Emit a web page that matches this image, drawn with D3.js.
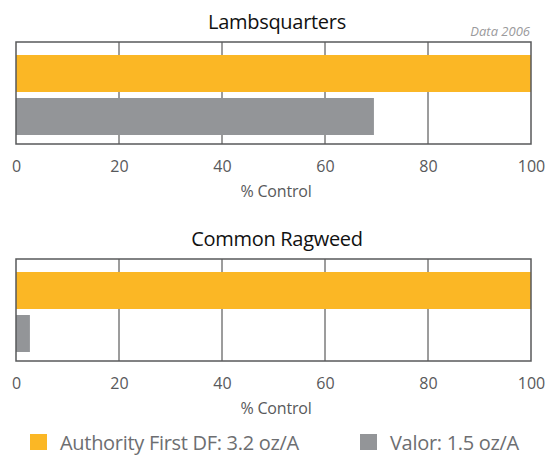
<!DOCTYPE html>
<html>
<head>
<meta charset="utf-8">
<script src="https://cdn.jsdelivr.net/npm/d3@7"></script>
<style>
  body { margin: 0; background: #fff; }
  svg { display: block; font-family: "Open Sans", "Noto Sans", sans-serif; }
</style>
</head>
<body>
<svg id="chart" width="551" height="457"></svg>
<script>
// weeds shown, one panel each
const weeds = ['Lambsquarters', 'Common Ragweed'];
const treatments = ['Authority First DF: 3.2 oz/A', 'Valor: 1.5 oz/A'];
// % control per weed, in treatment order
const authorityValues = [100, 100];
const valorValues = [69.5, 2.7];
const xTicks = [0, 20, 40, 60, 80, 100];

const colors = ['#fbb725', '#939598'];

const svg = d3.select('#chart');
const left = 16, right = 531;
const panelTop = [42, 259];
const boxH = 102;

const x = d3.scaleLinear().domain([0, 100]).range([left, right]);

weeds.forEach((weed, i) => {
    const top = panelTop[i];
    const g = svg.append('g').attr('transform', `translate(0,${top})`);

    const y = d3.scaleBand()
        .domain(treatments)
        .range([13, 93])
        .paddingInner(0.14);

    const rows = [
        { name: treatments[0], value: authorityValues[i] },
        { name: treatments[1], value: valorValues[i] }
    ];

    g.append('text')
        .attr('x', 277)
        .attr('y', -13)
        .attr('text-anchor', 'middle')
        .attr('font-size', '20px')
        .attr('letter-spacing', '-0.3px')
        .attr('fill', '#111')
        .text(weed);

    if (i === 0) {
        g.append('text')
            .attr('x', 530)
            .attr('y', -6)
            .attr('text-anchor', 'end')
            .attr('font-size', '13px')
            .attr('font-style', 'italic')
            .attr('fill', '#9a9a9c')
            .text('Data 2006');
    }

    // gridlines
    g.selectAll('.grid')
        .data(xTicks.slice(1, -1))
        .enter()
        .append('line')
        .attr('class', 'grid')
        .attr('x1', d => x(d))
        .attr('x2', d => x(d))
        .attr('y1', 0)
        .attr('y2', boxH)
        .attr('stroke', '#3a3a3a')
        .attr('stroke-width', 1);

    g.selectAll('.bar')
        .data(rows)
        .enter()
        .append('rect')
        .attr('class', 'bar')
        .attr('x', x(0))
        .attr('y', d => y(d.name))
        .attr('width', d => x(d.value) - x(0))
        .attr('height', y.bandwidth())
        .attr('fill', (d, j) => colors[j]);

    g.append('rect')
        .attr('x', left)
        .attr('y', 0)
        .attr('width', right - left)
        .attr('height', boxH)
        .attr('fill', 'none')
        .attr('stroke', '#58595b')
        .attr('stroke-width', 1.5);

    const axis = d3.axisBottom(x).tickValues(xTicks).tickSize(0).tickPadding(0);
    const ax = g.append('g')
        .attr('transform', `translate(0,${boxH})`)
        .call(axis);
    ax.select('.domain').remove();
    ax.selectAll('text')
        .attr('dy', null)
        .attr('y', 28)
        .attr('font-size', '16px')
        .attr('font-family', '"Open Sans", "Noto Sans", sans-serif')
        .attr('fill', '#58595b');

    g.append('text')
        .attr('x', 276)
        .attr('y', boxH + 53)
        .attr('text-anchor', 'middle')
        .attr('font-size', '16px')
        .attr('letter-spacing', '-0.2px')
        .attr('fill', '#58595b')
        .text('% Control');
});

// legend
const legendX = [30, 360];
const legend = svg.selectAll('.legend')
    .data(treatments)
    .enter()
    .append('g')
    .attr('class', 'legend')
    .attr('transform', (d, i) => `translate(${legendX[i]},434)`);

legend.append('rect')
    .attr('width', 17)
    .attr('height', 16)
    .attr('fill', (d, i) => colors[i]);

legend.append('text')
    .attr('x', 30)
    .attr('y', 15.5)
    .attr('font-size', '20px')
    .attr('letter-spacing', '-0.3px')
    .attr('fill', '#6d6e71')
    .text(d => d);
</script>
</body>
</html>
